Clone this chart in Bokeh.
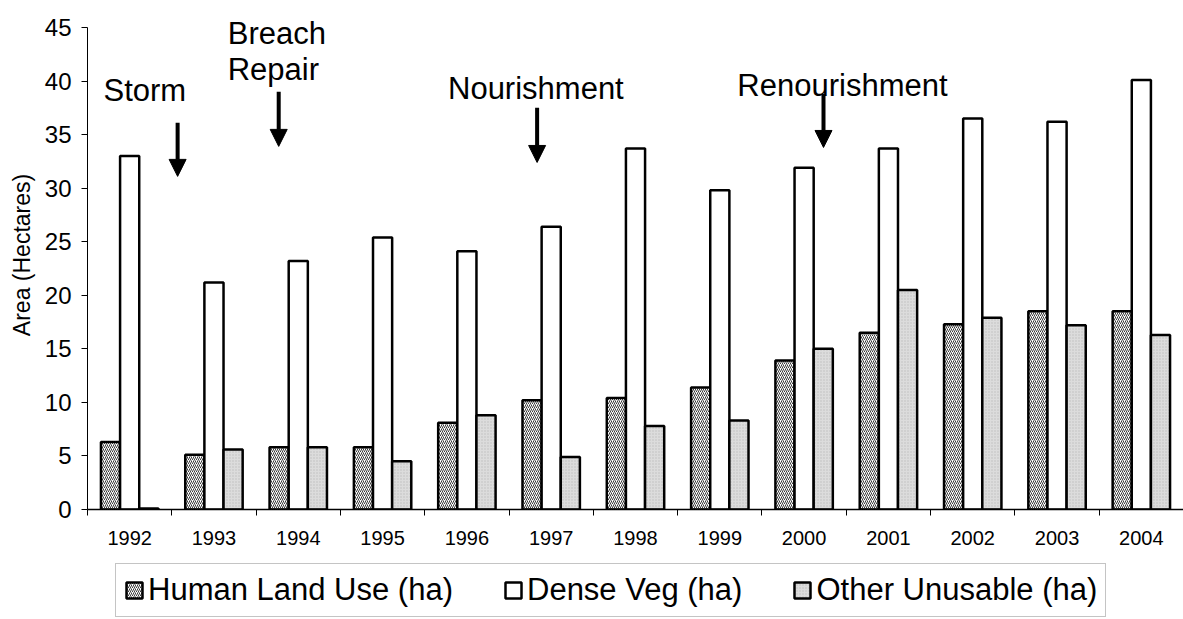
from bokeh.plotting import figure
from bokeh.layouts import column
from bokeh.models import (ColumnDataSource, Range1d, FixedTicker, Legend, LegendItem,
                          Label, Arrow, NormalHead, LinearAxis)
from bokeh.embed import file_html
from bokeh.resources import INLINE
import numpy as np

# ---- data ----
years = ["1992", "1993", "1994", "1995", "1996", "1997", "1998",
         "1999", "2000", "2001", "2002", "2003", "2004"]
human = [6.3, 5.1, 5.8, 5.8, 8.1, 10.2, 10.4, 11.4, 13.9, 16.5, 17.3, 18.5, 18.5]
dense = [33.0, 21.2, 23.2, 25.4, 24.1, 26.4, 33.7, 29.8, 31.9, 33.7, 36.5, 36.2, 40.1]
other = [0.1, 5.6, 5.8, 4.5, 8.8, 4.9, 7.8, 8.3, 15.0, 20.5, 17.9, 17.2, 16.3]
series_names = ["Human Land Use (ha)", "Dense Veg (ha)", "Other Unusable (ha)"]
y_ticks = list(range(0, 50, 5))

FONT = "Liberation Sans"
BW = 0.227
W = 1183

idx = np.arange(len(years))
src = ColumnDataSource(dict(
    xh=idx + 0.5 - BW,
    xd=idx + 0.5,
    xo=idx + 0.5 + BW,
    human=human, dense=dense, other=other,
))

# frame spans the top of the figure so the event labels are inside it;
# the y axis line itself is bounded to 0..45
p = figure(width=W, height=556, output_backend="svg", toolbar_location=None,
           x_range=Range1d(0, len(years)), y_range=Range1d(0, 47.52),
           x_axis_location=None, y_axis_location=None)
p.min_border_left = 87
p.min_border_right = 0
p.min_border_top = 0
p.min_border_bottom = 47
p.outline_line_color = None
p.xgrid.visible = False
p.ygrid.visible = False
p.background_fill_color = "white"
p.border_fill_color = "white"

yax = LinearAxis(ticker=FixedTicker(ticks=y_ticks, minor_ticks=[]), bounds=(0, 45))
yax.axis_label = "Area (Hectares)"
yax.axis_label_text_font = FONT
yax.axis_label_text_font_size = "23px"
yax.axis_label_text_font_style = "normal"
yax.axis_label_text_color = "black"
yax.axis_label_standoff = 7
yax.major_label_text_font = FONT
yax.major_label_text_font_size = "24px"
yax.major_label_text_color = "black"
yax.major_label_standoff = 10
yax.major_tick_out = 6
yax.major_tick_in = 0
yax.major_tick_line_color = "black"
yax.axis_line_color = "black"
yax.axis_line_width = 1
p.add_layout(yax, "left")

# x axis: labels at category centres, tick marks at category boundaries
xax = LinearAxis(ticker=FixedTicker(ticks=list(idx + 0.5),
                                    minor_ticks=list(range(len(years) + 1))))
xax.major_label_overrides = {float(i + 0.5): y for i, y in enumerate(years)}
xax.major_label_text_font = FONT
xax.major_label_text_font_size = "20px"
xax.major_label_text_color = "black"
xax.major_label_standoff = 15
xax.major_tick_line_color = None
xax.major_tick_out = 6
xax.major_tick_in = 0
xax.minor_tick_out = 6
xax.minor_tick_in = 0
xax.minor_tick_line_color = "black"
xax.axis_line_color = "black"
xax.axis_line_width = 1.5
p.add_layout(xax, "below")

styles = [
    dict(fill_color="white", hatch_pattern="right_diagonal_line", hatch_color="#3a3a3a",
         hatch_scale=4, hatch_weight=1),
    dict(fill_color="white"),
    dict(fill_color="#dcdcdc", hatch_pattern="dot", hatch_color="#bdbdbd",
         hatch_scale=3, hatch_weight=1),
]
common = dict(width=BW, bottom=0, line_color="black", line_width=2.5)
p.vbar(x="xh", top="human", source=src, **common, **styles[0])
p.vbar(x="xd", top="dense", source=src, **common, **styles[1])
p.vbar(x="xo", top="other", source=src, **common, **styles[2])

# event annotations (x in category units: category i spans [i, i+1])
ann = [("Storm", 0.19, 39.1), ("Breach", 1.663, 44.45), ("Repair", 1.663, 41.1),
       ("Nourishment", 4.276, 39.3), ("Renourishment", 7.708, 39.6)]
for t, x, y in ann:
    p.add_layout(Label(x=x, y=y, text=t, text_font=FONT, text_font_size="31px",
                       text_color="black", text_baseline="alphabetic",
                       text_align="left"))

arrows = [(1.069, 36.1, 31.1), (2.268, 39.0, 33.9), (5.333, 37.5, 32.4),
          (8.73, 38.8, 33.8)]
for x, y0, y1 in arrows:
    p.add_layout(Arrow(end=NormalHead(size=17, fill_color="black", line_color="black",
                                      line_width=1),
                       x_start=x, y_start=y0, x_end=x, y_end=y1,
                       line_width=4, line_color="black"))

# legend strip underneath (its frame is aligned with the chart's frame)
q = figure(width=W, height=63, output_backend="svg", toolbar_location=None,
           x_range=Range1d(0, 1), y_range=Range1d(0, 1),
           x_axis_location=None, y_axis_location=None, min_border=0)
q.min_border_left = 87
q.outline_line_color = None
q.xgrid.visible = False
q.ygrid.visible = False
q.border_fill_color = "white"
# legend swatch renderers: one small bar hidden behind the opaque legend box
swatch = ColumnDataSource(dict(x=[0.5], bottom=[0.4], top=[0.6]))
rs = [q.vbar(x="x", top="top", source=swatch, width=0.02, bottom="bottom",
             line_color="black", line_width=2.5, **st) for st in styles]

legend = Legend(items=[LegendItem(label=n, renderers=[r]) for n, r in zip(series_names, rs)],
                orientation="horizontal", location=(28, 2))
legend.label_text_font = FONT
legend.label_text_font_size = "31px"
legend.label_text_color = "black"
legend.glyph_width = 20
legend.glyph_height = 20
legend.label_standoff = 4
legend.spacing = 50
legend.padding = 8
legend.margin = 0
legend.border_line_color = "#8a8a8a"
legend.border_line_width = 1.5
legend.background_fill_color = "white"
legend.background_fill_alpha = 1
q.add_layout(legend)

open("out.html", "w").write(file_html(column(p, q, spacing=0), INLINE))
